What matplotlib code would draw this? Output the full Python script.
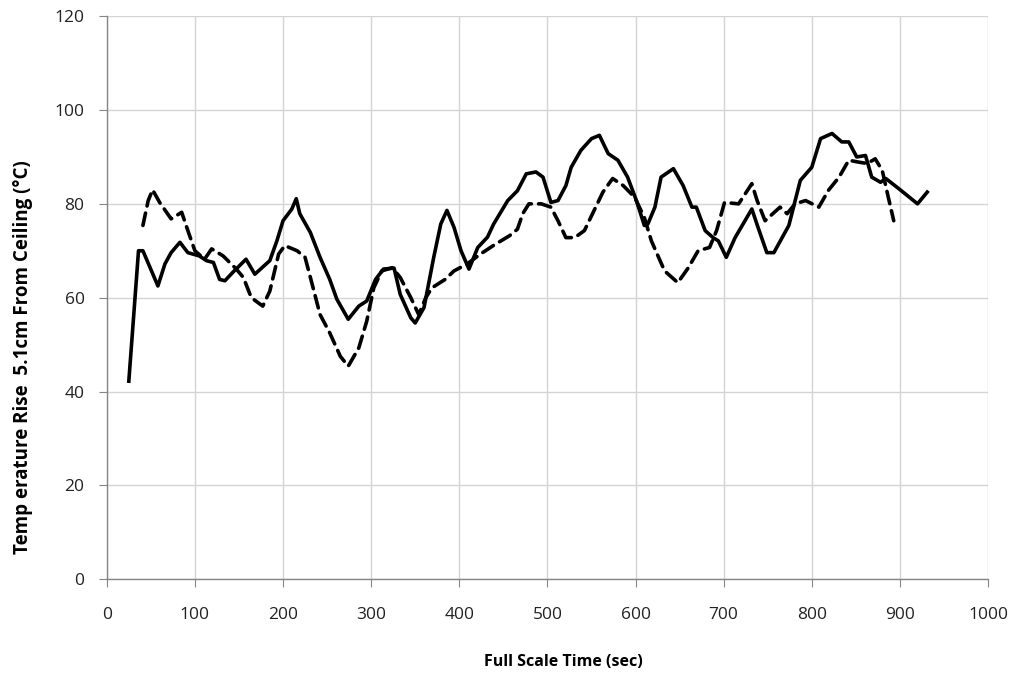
import matplotlib
matplotlib.use("Agg")
from matplotlib import pyplot as plt

# solid curve
t_solid = [25, 36, 41, 58, 66, 73, 83, 92, 105, 113, 121, 128, 134, 143, 158, 168, 185,
           193, 200, 210, 215, 219, 231, 242, 253, 261, 274, 286, 295, 305, 314, 326,
           333, 345, 350, 360, 371, 379, 386, 394, 402, 411, 421, 432, 439, 455, 466,
           476, 487, 495, 504, 512, 521, 527, 538, 550, 559, 569, 580, 591, 601, 610,
           614, 622, 629, 643, 654, 664, 669, 679, 688, 694, 703, 713, 732, 739, 749,
           757, 774, 787, 800, 810, 823, 834, 842, 851, 861, 868, 878, 884, 899, 920, 931]
temp_solid = [42.2, 70, 70, 62.5, 67.2, 69.6, 71.8, 69.6, 68.9, 67.9, 67.5, 63.9, 63.6,
              65.4, 68.2, 65, 67.9, 72.1, 76.4, 78.9, 81.1, 77.9, 73.9, 68.6, 63.9, 59.7,
              55.4, 58.2, 59.3, 63.9, 66.1, 66.3, 60.7, 55.7, 54.6, 57.9, 68.6, 75.7, 78.6,
              75, 70, 66.1, 70.7, 72.9, 75.7, 80.7, 82.8, 86.4, 86.8, 85.7, 80.3, 80.7,
              83.9, 87.8, 91.4, 93.9, 94.6, 90.7, 89.3, 85.7, 80.7, 75.4, 75.7, 79.3, 85.7,
              87.5, 83.9, 79.3, 79.3, 74.3, 72.8, 72.1, 68.6, 72.8, 78.9, 75, 69.6, 69.6,
              75.4, 85, 87.8, 93.9, 95, 93.2, 93.2, 90, 90.3, 85.7, 84.6, 85.4, 83.2, 80, 82.5]

# dashed curve
t_dash = [41, 47, 52, 60, 73, 85, 92, 100, 111, 119, 132, 147, 155, 164, 177, 185, 195,
          202, 216, 225, 233, 242, 253, 265, 274, 286, 295, 303, 312, 324, 333, 345, 354,
          362, 369, 384, 394, 409, 424, 441, 457, 466, 472, 479, 493, 504, 512, 521, 531,
          542, 553, 563, 574, 586, 599, 610, 618, 633, 648, 660, 671, 684, 692, 701, 717,
          732, 738, 747, 764, 772, 781, 793, 808, 819, 831, 842, 853, 863, 872, 880, 886, 893]
temp_dash = [75.4, 80.7, 83, 80.3, 76.8, 78.2, 74.3, 70, 68.2, 70.4, 68.9, 66.1, 64.3, 60,
             58.2, 61.4, 69.3, 71.1, 70, 68.6, 62.9, 56.4, 52.5, 47.5, 45.4, 49.3, 55, 62.1,
             65.7, 66.4, 64.3, 60, 56.4, 60, 62.1, 63.9, 65.7, 67.2, 69.3, 71.4, 73.2, 74.6,
             77.9, 80, 80, 79.3, 76.4, 72.8, 72.8, 74.3, 78.6, 82.5, 85.4, 83.9, 81.4, 77.1,
             72.1, 65.7, 63.2, 66.4, 70, 70.7, 74.3, 80.3, 80, 84.3, 80.7, 76.4, 79.3, 77.9,
             80, 80.7, 79.3, 82.9, 85.7, 89.3, 88.9, 88.6, 89.6, 87.1, 82.1, 76.4]

x_ticks = [0, 100, 200, 300, 400, 500, 600, 700, 800, 900, 1000]
y_ticks = [0, 20, 40, 60, 80, 100, 120]

plt.rcParams['font.family'] = ['Open Sans', 'DejaVu Sans']

fig = plt.figure(figsize=(10.17, 6.75), dpi=100)
ax = fig.add_axes([0.105, 0.142, 0.8665, 0.834])

ax.plot(t_solid, temp_solid, color='black', linewidth=2.6, solid_joinstyle='round')
ax.plot(t_dash, temp_dash, color='black', linewidth=2.6, linestyle=(0, (3.5, 2)),
        dash_capstyle='round')

ax.set_xlim(0, 1000)
ax.set_ylim(0, 120)
ax.set_xticks(x_ticks)
ax.set_yticks(y_ticks)
ax.grid(True, color='#d4d4d4', linewidth=1)
ax.set_axisbelow(True)

for s in ['top', 'right']:
    ax.spines[s].set_visible(False)
for s in ['left', 'bottom']:
    ax.spines[s].set_color('#868686')
    ax.spines[s].set_linewidth(1)
ax.tick_params(axis='both', direction='out', length=6, color='#868686', labelsize=12.5,
               labelcolor='#222222')
ax.tick_params(axis='x', pad=14)
ax.tick_params(axis='y', pad=10)

ax.set_xlabel('Full Scale Time (sec)', fontsize=11.5, fontweight='bold')
ax.set_ylabel('Temp erature Rise  5.1cm From Ceiling (°C)', fontsize=13.5,
              fontweight='bold')
ax.xaxis.set_label_coords(0.518, -0.133)
ax.yaxis.set_label_coords(-0.084, 0.395)

fig.savefig('out.png', dpi=100)
